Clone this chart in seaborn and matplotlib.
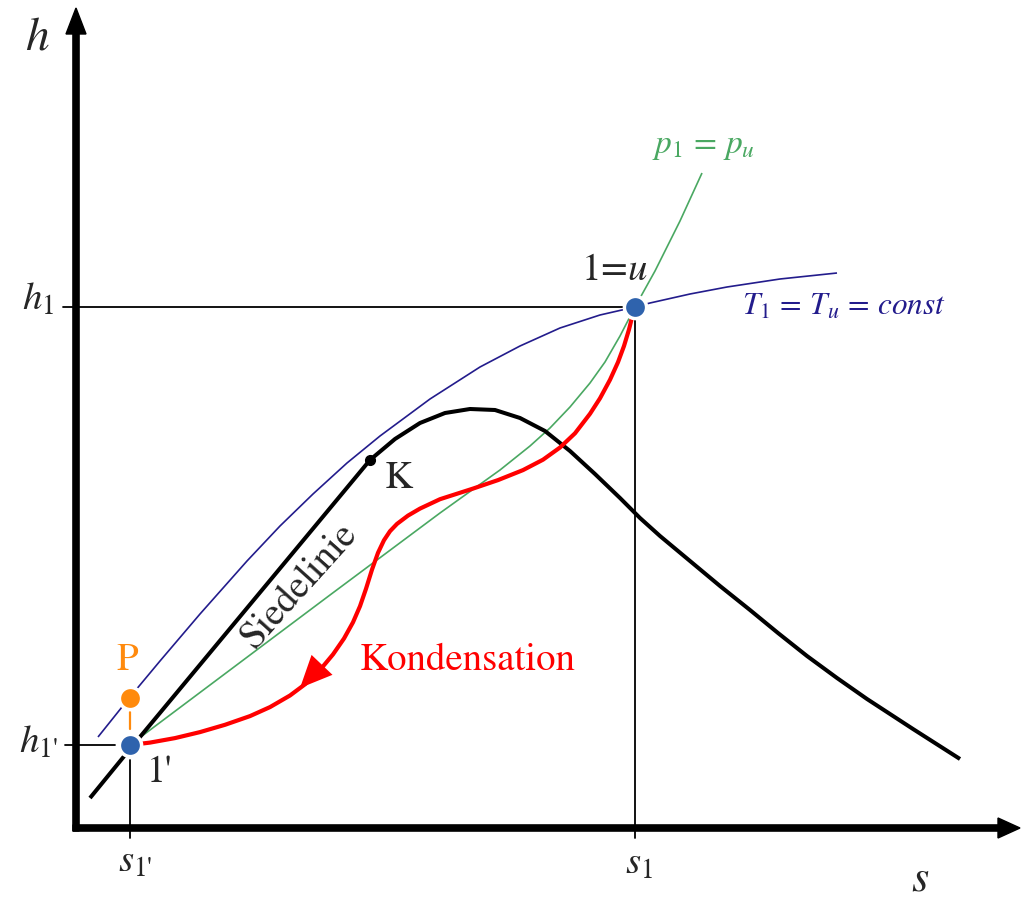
import matplotlib
matplotlib.use("Agg")
import matplotlib.pyplot as plt
import pandas as pd
import seaborn as sns

# h-s diagram (schematic units): saturation curve, isotherm, isobar, condensation path
sat_s = [0.14, 0.54, 2.94, 3.19, 3.44, 3.69, 3.94, 4.19, 4.44, 4.69, 4.94, 5.19, 5.44,
         5.64, 5.84, 6.14, 6.44, 6.74, 7.02, 7.31, 7.61, 7.91, 8.37, 8.84]
sat_h = [0.30, 0.79, 3.68, 3.89, 4.05, 4.15, 4.19, 4.18, 4.10, 3.97, 3.77, 3.54, 3.30,
         3.10, 2.92, 2.67, 2.42, 2.18, 1.95, 1.72, 1.50, 1.29, 0.99, 0.69]

iso_T_s = [0.22, 0.54, 0.84, 1.24, 1.71, 2.04, 2.37, 2.71, 3.04, 3.54, 4.04, 4.44,
           4.84, 5.24, 5.59, 5.74, 6.14, 6.51, 7.04, 7.61]
iso_T_h = [0.91, 1.31, 1.67, 2.14, 2.67, 3.02, 3.34, 3.65, 3.92, 4.29, 4.61, 4.82,
           5.00, 5.13, 5.21, 5.25, 5.34, 5.41, 5.49, 5.55]

iso_p_s = [0.54, 2.54, 3.64, 4.24, 4.54, 4.74, 4.94, 5.14, 5.29, 5.44, 5.59, 5.79,
           6.04, 6.26]
iso_p_h = [0.83, 2.33, 3.15, 3.58, 3.82, 4.00, 4.21, 4.45, 4.66, 4.92, 5.21, 5.57,
           6.07, 6.55]

cond_s = [5.59, 5.57, 5.53, 5.48, 5.42, 5.34, 5.24, 5.14, 4.99, 4.84, 4.67, 4.47,
          4.22, 3.97, 3.64, 3.44, 3.32, 3.21, 3.14, 3.08, 3.02, 2.96, 2.90, 2.84,
          2.77, 2.68, 2.57, 2.44, 2.29, 2.14, 1.94, 1.74, 1.49, 1.24, 0.99, 0.74, 0.54]
cond_h = [5.21, 5.145, 4.985, 4.82, 4.658, 4.482, 4.297, 4.142, 3.947, 3.805, 3.683,
          3.579, 3.479, 3.394, 3.288, 3.194, 3.124, 3.041, 2.968, 2.878, 2.752, 2.584,
          2.392, 2.218, 2.057, 1.895, 1.736, 1.58, 1.437, 1.325, 1.209, 1.119, 1.032,
          0.959, 0.899, 0.854, 0.83]

# state points
s_1, h_1 = 5.59, 5.21          # state 1 = u
s_1p, h_1p = 0.54, 0.83        # state 1'
s_P, h_P = 0.54, 1.30          # point P
s_K, h_K = 2.94, 3.68          # critical point K

sns.set_theme(style="white")
plt.rcParams["font.family"] = ["STIXGeneral", "DejaVu Sans"]
plt.rcParams["mathtext.fontset"] = "stix"

BLACK = "#000000"
NAVY = "#231c8c"
GREEN = "#4aa862"
RED = "#ff0000"
BLUE = "#2f63ad"
ORANGE = "#ff8a0d"

fig = plt.figure(figsize=(10.21, 8.97), dpi=100)
ax = fig.add_axes([0, 0, 1, 1])
ax.set_xlim(-0.76, 9.45)
ax.set_ylim(-0.69, 8.28)
ax.set_axis_off()


def curve(s, h, color, lw, z):
    df = pd.DataFrame({"s": s, "h": h})
    sns.lineplot(data=df, x="s", y="h", sort=False, estimator=None, color=color,
                 lw=lw, ax=ax, zorder=z, solid_capstyle="butt",
                 solid_joinstyle="round")


# guide lines to the axes
ax.plot([-0.13, s_1], [h_1, h_1], color=BLACK, lw=1.3, zorder=2)
ax.plot([-0.11, 0.39], [h_1p, h_1p], color=BLACK, lw=1.3, zorder=2)
ax.plot([s_1, s_1], [-0.10, h_1], color=BLACK, lw=1.3, zorder=2)
ax.plot([s_1p, s_1p], [-0.10, 0.68], color=BLACK, lw=1.3, zorder=2)

curve(iso_T_s, iso_T_h, NAVY, 1.2, 3)
curve(iso_p_s, iso_p_h, GREEN, 1.2, 3)
curve(sat_s, sat_h, BLACK, 2.9, 4)
curve(cond_s, cond_h, RED, 3.0, 5)

# direction arrow on the condensation path
ax.annotate("", xy=(2.24, 1.40), xytext=(2.44, 1.61),
            arrowprops=dict(arrowstyle="-|>,head_length=1.15,head_width=0.52",
                            mutation_scale=20, color=RED, lw=0,
                            shrinkA=0, shrinkB=0), zorder=6)

# coordinate axes with arrow heads
ax.arrow(-0.03, 0, 9.47, 0, width=0.062, head_width=0.2, head_length=0.22,
         length_includes_head=True, color=BLACK, zorder=7)
ax.arrow(0, -0.03, 0, 8.23, width=0.062, head_width=0.2, head_length=0.26,
         length_includes_head=True, color=BLACK, zorder=7)

# P connector and state points
ax.plot([s_P, s_P], [0.99, 1.16], color=ORANGE, lw=1.6, zorder=6)
ax.plot([s_K], [h_K], "o", color=BLACK, ms=7, zorder=8)
for (ps, ph, c) in [(s_1p, h_1p, BLUE), (s_1, h_1, BLUE), (s_P, h_P, ORANGE)]:
    ax.plot([ps], [ph], "o", color=c, ms=16, mec="white", mew=2.5, zorder=9)

# labels
ax.text(-0.39, 7.90, r"$h$", fontsize=34, ha="center", va="center")
ax.text(-0.22, 5.18, r"$h_1$", fontsize=28, ha="right", va="baseline")
ax.text(-0.18, 0.75, r"$h_{1\text{'}}$", fontsize=28, ha="right", va="baseline")
ax.text(0.59, -0.44, r"$s_{1\text{'}}$", fontsize=28, ha="center", va="baseline")
ax.text(5.63, -0.46, r"$s_1$", fontsize=28, ha="center", va="baseline")
ax.text(8.44, -0.62, r"$s$", fontsize=32, ha="center", va="baseline")
ax.text(5.38, 5.48, r"1=$u$", fontsize=28, ha="center", va="baseline")
ax.text(5.76, 6.75, r"$p_1\,=\,p_u$", fontsize=24, ha="left", va="baseline",
        color=GREEN)
ax.text(6.66, 5.13, r"$T_1\,=\,T_u\,=\,const$", fontsize=22.5, ha="left",
        va="baseline", color=NAVY)
ax.text(3.09, 3.40, "K", fontsize=28, ha="left", va="baseline")
ax.text(0.71, 0.46, "1'", fontsize=27, ha="left", va="baseline")
ax.text(0.51, 1.58, "P", fontsize=28, ha="center", va="baseline", color=ORANGE)
ax.text(2.84, 1.58, "Kondensation", fontsize=28, ha="left", va="baseline", color=RED)
ax.text(2.23, 2.42, "Siedelinie", fontsize=28, ha="center", va="center",
        rotation=48, rotation_mode="anchor")

fig.savefig("out.png", dpi=100)
